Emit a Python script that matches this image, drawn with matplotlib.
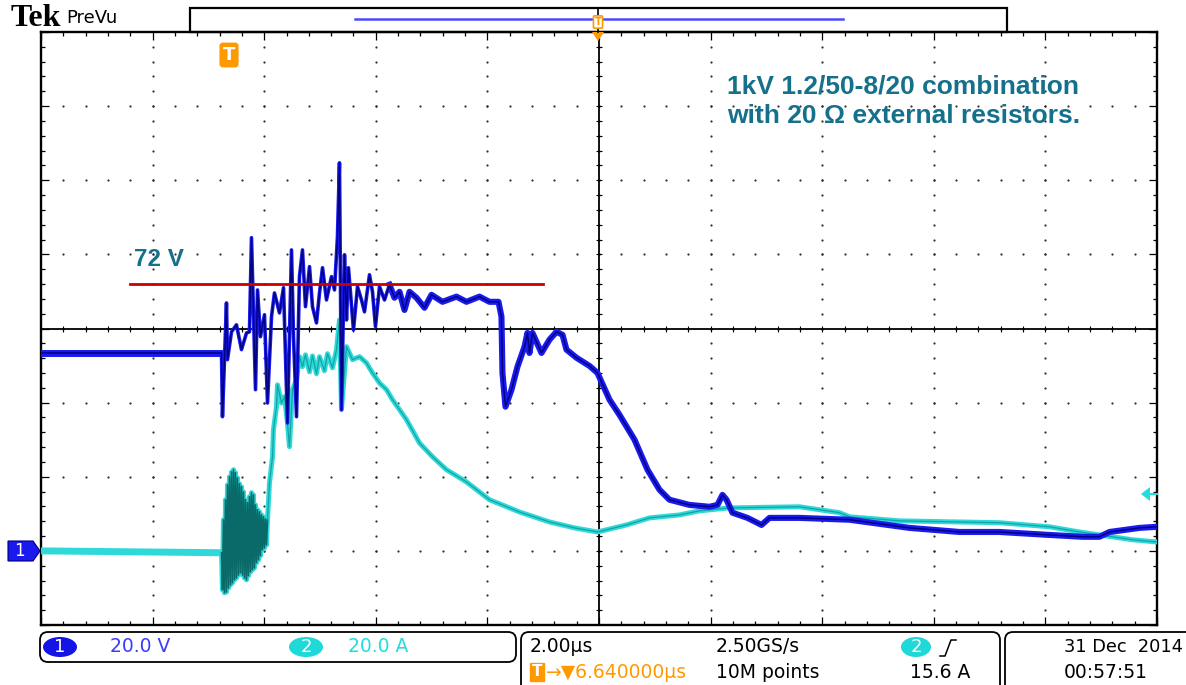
import numpy as np
import matplotlib
matplotlib.use("Agg")
import matplotlib.pyplot as plt
from matplotlib.patches import FancyBboxPatch, Rectangle, Polygon, Ellipse
from matplotlib.lines import Line2D
from matplotlib.transforms import Affine2D

# ---------------- data (time in µs relative to trigger, V and A) ----------------
ch1_time_us = [-3.37, -0.125, -0.108, -0.036, -0.018, 0.054, 0.143, 0.233, 0.323, 0.376,
               0.412, 0.484, 0.520, 0.573, 0.645, 0.699, 0.771, 0.824, 0.914, 0.986,
               1.057, 1.129, 1.165, 1.219, 1.272, 1.326, 1.380, 1.452, 1.505, 1.577,
               1.631, 1.685, 1.756, 1.846, 1.900, 1.953, 1.989, 2.025, 2.079, 2.115,
               2.150, 2.240, 2.312, 2.384, 2.437, 2.527, 2.581, 2.634, 2.706, 2.796,
               2.885, 2.975, 3.065, 3.154, 3.244, 3.369, 3.513, 3.638, 3.835, 4.086,
               4.265, 4.498, 4.677, 4.839, 4.892, 4.910, 4.964, 5.072, 5.179, 5.305,
               5.358, 5.394, 5.448, 5.609, 5.753, 5.878, 5.986, 6.057, 6.237, 6.470,
               6.613, 6.828, 7.007, 7.276, 7.509, 7.724, 7.903, 8.262, 8.620, 8.763,
               8.853, 8.925, 9.032, 9.301, 9.552, 9.695, 10.233, 11.129, 11.667, 12.204,
               13.100, 13.817, 14.713, 15.305, 15.609, 15.789, 16.326, 16.64]
ch1_volts = [53.4, 53.4, 36.2, 66.9, 51.6, 59.1, 61.0, 54.3, 58.8, 59.1,
             84.5, 43.5, 70.4, 57.8, 63.7, 39.9, 63.2, 69.6, 64.2, 71.0,
             34.5, 81.2, 57.8, 36.2, 74.0, 81.2, 65.9, 76.7, 65.9, 61.5,
             69.6, 76.4, 67.7, 74.0, 70.4, 84.7, 104.7, 38.1, 79.9, 62.3,
             76.4, 59.6, 71.3, 67.7, 64.5, 74.5, 69.9, 60.5, 71.3, 67.7,
             71.8, 68.3, 69.9, 65.0, 69.9, 68.3, 65.6, 69.1, 67.2, 68.6,
             67.2, 68.6, 67.2, 67.2, 63.2, 48.0, 38.9, 43.5, 49.7, 55.1,
             58.8, 53.4, 58.8, 53.4, 57.0, 59.1, 58.3, 54.3, 52.1, 49.9,
             48.0, 40.8, 36.7, 30.0, 21.9, 16.5, 13.8, 12.4, 11.9, 12.4,
             15.1, 13.8, 10.3, 8.9, 7.0, 8.9, 8.9, 8.4, 7.3, 6.2,
             5.1, 5.1, 4.3, 3.8, 3.8, 5.1, 6.2, 6.5]

ch2_time_us = [-3.37,
               -0.125, -0.108, -0.090, -0.072, -0.054, -0.036, -0.018, 0.0, 0.018, 0.036,
               0.054, 0.072, 0.090, 0.108, 0.125, 0.143, 0.161, 0.179, 0.197, 0.215,
               0.233, 0.251, 0.269, 0.287, 0.305, 0.323, 0.341, 0.358, 0.376, 0.394,
               0.412, 0.430, 0.448, 0.466, 0.484, 0.502, 0.520, 0.538, 0.556, 0.573,
               0.591, 0.609, 0.627, 0.645, 0.663, 0.681, 0.699,
               0.735, 0.789, 0.806, 0.860, 0.878, 0.950, 1.004, 1.057, 1.093, 1.147,
               1.219, 1.272, 1.326, 1.380, 1.452, 1.505, 1.577, 1.631, 1.720, 1.774,
               1.864, 1.935, 1.989, 2.025, 2.115, 2.222, 2.348, 2.473, 2.581, 2.706,
               2.832, 2.939, 3.065, 3.190, 3.423, 3.656, 3.907, 4.265, 4.677, 5.215,
               5.753, 6.201, 6.613, 7.133, 7.545, 8.082, 8.441, 8.978, 10.233, 10.950,
               11.129, 12.025, 13.817, 14.713, 15.251, 15.609, 16.201, 16.64]
ch2_amps = [0.0,
            -0.5, -10.5, 8.4, -11.3, 13.8, -11.1, 17.8, -10.0, 20.0, -9.2,
            21.3, -8.6, 21.9, -7.8, 21.1, -7.3, 19.7, -6.5, 18.1, -5.9,
            17.3, -6.5, 15.9, -7.3, 13.8, -7.8, 13.0, -6.7, 14.6, -5.7,
            15.7, -5.1, 15.1, -4.6, 12.4, -3.2, 11.1, -2.4, 10.5, -1.3,
            9.7, 0.3, 9.2, 0.8, 8.6, 1.6, 8.4,
            18.4, 25.4, 32.7, 38.9, 44.8, 39.9, 41.6, 34.5, 28.1, 43.5,
            46.2, 52.4, 49.7, 52.9, 48.3, 52.6, 47.8, 52.4, 48.6, 53.2,
            49.4, 54.3, 62.3, 38.1, 55.1, 51.6, 52.4, 50.7, 48.0, 45.3,
            43.5, 40.8, 38.1, 35.4, 29.1, 25.4, 21.9, 18.6, 13.8, 10.5,
            7.8, 6.2, 5.1, 7.0, 8.9, 9.7, 10.8, 11.6, 11.9, 10.3,
            9.2, 8.1, 7.6, 6.5, 5.1, 4.3, 3.0, 2.4]

clamp_level_V = 72
clamp_span_us = [-1.77, 5.63]
annotation = "1kV 1.2/50-8/20 combination\nwith 20 \u03a9 external resistors."
clamp_label = "72 V"

# scope settings
t_center = 6.64          # µs (trigger offset)
t_div, n_xdiv = 2.0, 10
v_div, n_ydiv = 20.0, 8
v_bottom = -20.0

# ---------------- figure ----------------
W, H, DPI = 1186, 685, 100
fig = plt.figure(figsize=(W / DPI, H / DPI), dpi=DPI)
fig.patch.set_facecolor("white")
PX = Affine2D().scale(1, -1).translate(0, H) + Affine2D().scale(1 / DPI) + fig.dpi_scale_trans

ax = fig.add_axes([41 / W, 1 - 625 / H, 1116 / W, 593 / H])
x0 = t_center - t_div * n_xdiv / 2
x1 = t_center + t_div * n_xdiv / 2
y0, y1 = v_bottom, v_bottom + v_div * n_ydiv
ax.set_xlim(x0, x1)
ax.set_ylim(y0, y1)

# graticule
xmaj = x0 + t_div * np.arange(n_xdiv + 1)
ymaj = y0 + v_div * np.arange(n_ydiv + 1)
xmin = x0 + t_div / 5 * np.arange(n_xdiv * 5 + 1)
ymin = y0 + v_div / 5 * np.arange(n_ydiv * 5 + 1)
ax.set_xticks(xmaj)
ax.set_yticks(ymaj)
ax.set_xticks(xmin, minor=True)
ax.set_yticks(ymin, minor=True)
ax.tick_params(which="both", direction="in", top=True, right=True, bottom=True, left=True,
               labelbottom=False, labelleft=False, color="black")
ax.tick_params(which="minor", length=3, width=0.9)
ax.tick_params(which="major", length=6, width=0.9)
for s in ax.spines.values():
    s.set_linewidth(1.7)
    s.set_color("black")

dot_kw = dict(s=2.6, color="#333333", linewidths=0, zorder=1)
for yv in ymaj[1:-1]:
    ax.scatter(xmin[1:-1], np.full(len(xmin) - 2, yv), **dot_kw)
for xv in xmaj[1:-1]:
    ax.scatter(np.full(len(ymin) - 2, xv), ymin[1:-1], **dot_kw)

yc = y0 + v_div * n_ydiv / 2
ax.axhline(yc, color="black", lw=1.3, zorder=2)
ax.axvline(t_center, color="black", lw=1.3, zorder=2)
ax.scatter(xmin, np.full(len(xmin), yc), marker="|", s=14, color="black", linewidths=0.8, zorder=2)
ax.scatter(np.full(len(ymin), t_center), ymin, marker="_", s=14, color="black", linewidths=0.8, zorder=2)

# channel 2 (current)
t2 = np.array(ch2_time_us)
a2 = np.array(ch2_amps)
pre2 = t2 <= -0.125
burst = (t2 >= -0.125) & (t2 <= 0.699)
post2 = t2 >= 0.699
ax.plot(t2, a2, color="#30d9d9", lw=3.6, zorder=3)
ax.plot(t2[pre2], a2[pre2], color="#30d9d9", lw=5.0, zorder=3)
ax.plot(t2[burst], a2[burst], color="#0a6a6a", lw=1.2, zorder=3)
ax.plot(t2[post2], a2[post2], color="#14a3a3", lw=0.9, zorder=3)

# channel 1 (voltage)
t1 = np.array(ch1_time_us)
v1 = np.array(ch1_volts)
calm1 = t1 <= -0.12
calm2 = t1 >= 2.8
ax.plot(t1, v1, color="#1a1aee", lw=2.6, zorder=4)
ax.plot(t1[calm1], v1[calm1], color="#1a1aee", lw=5.0, zorder=4)
ax.plot(t1[calm2], v1[calm2], color="#1a1aee", lw=4.4, zorder=4)
ax.plot(t1, v1, color="#00007a", lw=1.0, zorder=4)

# 72 V clamp line
ax.plot(clamp_span_us, [clamp_level_V, clamp_level_V], color="#cc0000", lw=2, zorder=5, clip_on=False)

# annotations
txt_col = "#15708b"
ax.text(clamp_span_us[0] + 0.08, clamp_level_V + 3.5, clamp_label, color=txt_col, fontsize=17.5,
        fontweight="bold", family="Liberation Sans", ha="left", va="bottom", zorder=6)
fig.text(727, 101, annotation, transform=PX, color=txt_col, fontsize=19, fontweight="bold",
         family="Liberation Sans", ha="left", va="center", linespacing=1.3)

# ---------------- header ----------------
fig.text(11, 19, "Tek", transform=PX, family="Liberation Serif", fontweight="bold",
         fontsize=23, ha="left", va="center", color="black")
fig.text(66, 18, "PreVu", transform=PX, family="DejaVu Sans", fontsize=13,
         ha="left", va="center", color="black")
fig.add_artist(Rectangle((190, 8), 817, 24, transform=PX, fill=False, ec="black", lw=1.6))
fig.add_artist(Line2D([355, 843], [19, 19], transform=PX, color="#4a4aff", lw=1.8))
fig.add_artist(Line2D([598, 598], [8, 32], transform=PX, color="black", lw=1.2))
fig.text(598, 22, "T", transform=PX, color="#ff9900", fontsize=7, fontweight="bold",
         ha="center", va="center",
         bbox=dict(boxstyle="round,pad=0.12", fc="white", ec="#ff9900", lw=1.2))
fig.add_artist(Polygon([[592, 32], [604, 32], [598, 41]], closed=True, transform=PX,
                       fc="#ff9900", ec="none"))
fig.text(229, 55, "T", transform=PX, color="white", fontsize=13, fontweight="bold",
         ha="center", va="center",
         bbox=dict(boxstyle="round,pad=0.15", fc="#ff9900", ec="#ff9900"))

# channel 1 ground marker
fig.add_artist(Polygon([[8, 541], [33, 541], [40, 551], [33, 561], [8, 561]], closed=True,
                       transform=PX, fc="#1a1aee", ec="#00007a", lw=0.8))
fig.text(19, 551, "1", transform=PX, color="white", fontsize=12, ha="center", va="center")
# trigger level marker (right)
fig.add_artist(Polygon([[1141, 494], [1150, 487], [1150, 501]], closed=True,
                       transform=PX, fc="#22dddd", ec="none"))
fig.add_artist(Line2D([1149, 1157], [494, 494], transform=PX, color="#22dddd", lw=1.5))

# ---------------- status bar ----------------
sfont = dict(family="DejaVu Sans", fontsize=13.5, va="center", ha="left")
fig.add_artist(FancyBboxPatch((40, 632), 476, 30, boxstyle="round,pad=0,rounding_size=8",
                              transform=PX, fc="none", ec="black", lw=1.3))
fig.add_artist(Ellipse((60, 647), 34, 20, transform=PX, fc="#1414e6", ec="none"))
fig.text(60, 647, "1", transform=PX, color="white", fontsize=13, ha="center", va="center")
fig.text(110, 647, "20.0 V", transform=PX, color="#3b3bff", **sfont)
fig.add_artist(Ellipse((306, 647), 34, 20, transform=PX, fc="#1fd8d8", ec="none"))
fig.text(306, 647, "2", transform=PX, color="white", fontsize=13, ha="center", va="center")
fig.text(348, 647, "20.0 A", transform=PX, color="#22dddd", **sfont)

fig.add_artist(FancyBboxPatch((521, 632), 479, 80, boxstyle="round,pad=0,rounding_size=8",
                              transform=PX, fc="none", ec="black", lw=1.3))
fig.text(530, 647, "2.00\u00b5s", transform=PX, color="black", **sfont)
fig.text(537, 672, "T", transform=PX, color="white", fontsize=11, fontweight="bold",
         ha="center", va="center", bbox=dict(boxstyle="square,pad=0.12", fc="#ff9900", ec="#ff9900"))
fig.text(546, 672, "\u2192\u25bc6.640000\u00b5s", transform=PX, color="#ff9900", **sfont)
fig.text(716, 647, "2.50GS/s", transform=PX, color="black", **sfont)
fig.text(716, 672, "10M points", transform=PX, color="black", **sfont)
fig.add_artist(Ellipse((916, 647), 30, 20, transform=PX, fc="#1fd8d8", ec="none"))
fig.text(916, 647, "2", transform=PX, color="white", fontsize=13, ha="center", va="center")
fig.add_artist(Line2D([940, 945, 951, 956], [656, 656, 640, 640], transform=PX, color="black", lw=1.1))
fig.text(910, 672, "15.6 A", transform=PX, color="black", **sfont)

fig.add_artist(FancyBboxPatch((1005, 632), 220, 80, boxstyle="round,pad=0,rounding_size=8",
                              transform=PX, fc="none", ec="black", lw=1.3))
fig.text(1064, 647, "31 Dec  2014", transform=PX, color="black",
         family="DejaVu Sans", fontsize=12.8, va="center", ha="left")
fig.text(1064, 672, "00:57:51", transform=PX, color="black", **sfont)

fig.savefig("out.png", dpi=DPI, facecolor="white")
